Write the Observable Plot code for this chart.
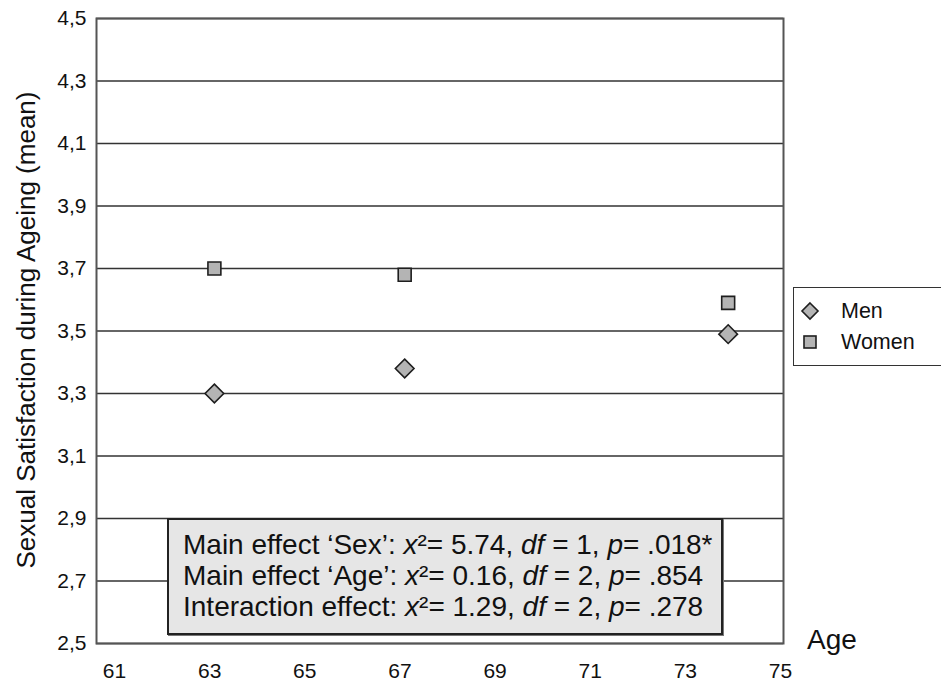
<!DOCTYPE html>
<html>
<head>
<meta charset="utf-8">
<script src="https://cdn.jsdelivr.net/npm/d3@7"></script>
<script src="https://cdn.jsdelivr.net/npm/@observablehq/plot@0.6"></script>
<style>
  html, body { margin: 0; padding: 0; background: #fff; }
  body { font-family: "Liberation Sans", Arial, sans-serif; color: #111; }
  #wrap { position: relative; width: 941px; height: 684px; overflow: hidden; }
  #ytitle { position: absolute; left: 26px; top: 330px; transform: translate(-50%, -50%) rotate(-90deg);
            white-space: nowrap; font-size: 26px; }
  #agelabel { position: absolute; left: 807px; top: 624px; font-size: 28px; }
  #legend { position: absolute; left: 793px; top: 287px; width: 150px; height: 79px; box-sizing: border-box;
            border: 1.5px solid #333; background: #fff; }
  .lrow { position: absolute; left: 0; height: 28px; display: flex; align-items: center; font-size: 21.5px; }
  .lrow svg { margin-left: 6px; margin-right: 21px; }
  #note { position: absolute; left: 167px; top: 518px; width: 556px; height: 117px; box-sizing: border-box;
          background: #e6e6e6; border: 2.5px solid #222; box-shadow: 1px 1px 0 #777;
          padding: 9px 0 0 14px; font-size: 28px; line-height: 31px; white-space: nowrap; }
</style>
</head>
<body>
<div id="wrap"></div>
<script>
// ---- data ----
const xTicks = [61, 63, 65, 67, 69, 71, 73, 75];
const yTicks = [2.5, 2.7, 2.9, 3.1, 3.3, 3.5, 3.7, 3.9, 4.1, 4.3, 4.5];
const ageGroups = [63.1, 67.1, 73.9];
const menMean = [3.30, 3.38, 3.49];
const womenMean = [3.70, 3.68, 3.59];
const seriesNames = ["Men", "Women"];
const yTitle = "Sexual Satisfaction during Ageing (mean)";
const xTitle = "Age";
const noteLines = [
  ["Main effect ‘Sex’: ", "5.74", "1", ".018*"],
  ["Main effect ‘Age’: ", "0.16", "2", ".854"],
  ["Interaction effect: ", "1.29", "2", ".278"]
];

const men = ageGroups.map((a, i) => ({age: a, mean: menMean[i]}));
const women = ageGroups.map((a, i) => ({age: a, mean: womenMean[i]}));

const fillGray = "#b4b4b4";
const strokeDark = "#1e1e1e";

const chart = Plot.plot({
  width: 941,
  height: 684,
  marginTop: 18,
  marginBottom: 41,
  marginLeft: 96,
  marginRight: 158,
  style: {fontFamily: "'Liberation Sans', Arial, sans-serif", fontSize: "20px", color: "#111", background: "transparent"},
  x: {domain: [61, 75], range: [114, 780]},
  y: {domain: [2.5, 4.5]},
  marks: [
    Plot.gridY(yTicks, {stroke: "#333", strokeOpacity: 1, strokeWidth: 1.5}),
    Plot.frame({stroke: "#555", strokeWidth: 2}),
    Plot.axisY(yTicks, {tickSize: 0, tickPadding: 10, fontSize: 21, label: null,
      tickFormat: d => d.toFixed(1).replace(".", ",")}),
    Plot.axisX(xTicks, {tickSize: 0, tickPadding: 20, fontSize: 21, label: null, tickFormat: d => String(d)}),
    Plot.dot(women, {x: "age", y: "mean", symbol: "square", r: 7.3, fill: fillGray, stroke: strokeDark, strokeWidth: 1.6}),
    Plot.dot(men, {x: "age", y: "mean", symbol: "diamond2", r: 8.4, fill: fillGray, stroke: strokeDark, strokeWidth: 1.6})
  ]
});

const wrap = document.getElementById("wrap");
wrap.appendChild(chart);

const yt = document.createElement("div");
yt.id = "ytitle"; yt.textContent = yTitle; wrap.appendChild(yt);

const al = document.createElement("div");
al.id = "agelabel"; al.textContent = xTitle; wrap.appendChild(al);

// legend
const lg = document.createElement("div");
lg.id = "legend";
const symbols = [
  '<svg width="20" height="20" viewBox="-10 -10 20 20"><path d="M0,-8L8,0L0,8L-8,0Z" fill="' + fillGray + '" stroke="' + strokeDark + '" stroke-width="1.6"/></svg>',
  '<svg width="20" height="20" viewBox="-10 -10 20 20"><rect x="-6" y="-6" width="12" height="12" fill="' + fillGray + '" stroke="' + strokeDark + '" stroke-width="1.6"/></svg>'
];
seriesNames.forEach((n, i) => {
  const r = document.createElement("div");
  r.className = "lrow";
  r.style.top = (9 + i * 31) + "px";
  r.innerHTML = symbols[i] + "<span>" + n + "</span>";
  lg.appendChild(r);
});
wrap.appendChild(lg);

// annotation box
const note = document.createElement("div");
note.id = "note";
note.innerHTML = noteLines.map(l =>
  `<div>${l[0]}<i>x</i>²= ${l[1]}, <i>df</i> = ${l[2]}, <i>p</i>= ${l[3]}</div>`).join("");
wrap.appendChild(note);
</script>
</body>
</html>
